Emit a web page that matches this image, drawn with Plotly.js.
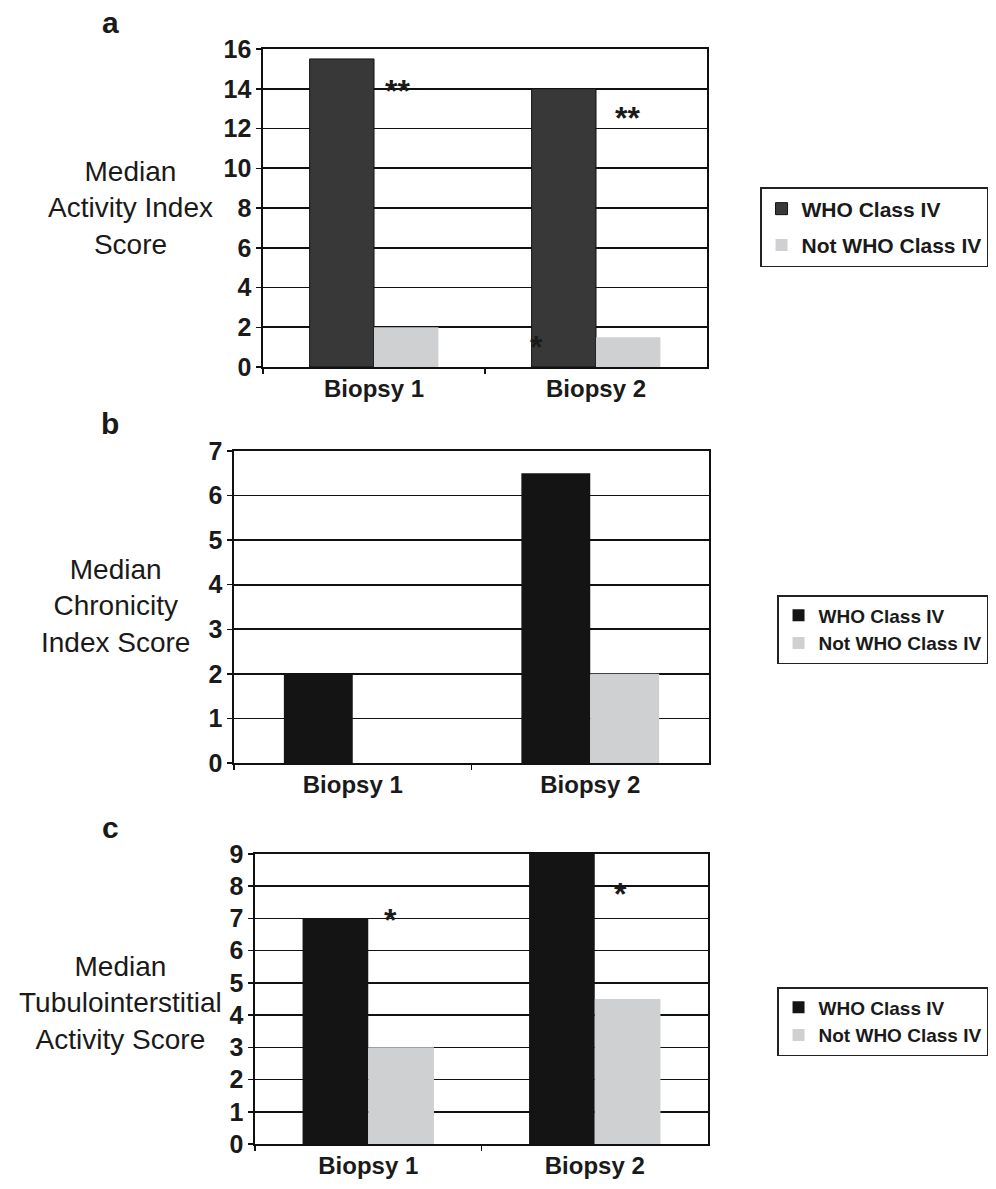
<!DOCTYPE html>
<html>
<head>
<meta charset="utf-8">
<script src="https://cdn.plot.ly/plotly-3.0.1.min.js"></script>
<style>html,body{margin:0;padding:0;background:#fff;}#chart{width:996px;height:1189px;}</style>
</head>
<body>
<div id="chart"></div>
<script>
// ---- data ----
const categories = ["Biopsy 1", "Biopsy 2"];
const seriesNames = ["WHO Class IV", "Not WHO Class IV"];
const activityWHO = [15.5, 14];
const activityNotWHO = [2, 1.5];
const chronicityWHO = [2, 6.5];
const chronicityNotWHO = [0, 2];
const tubuloWHO = [7, 9];
const tubuloNotWHO = [3, 4.5];
const panelLabels = ["a", "b", "c"];
const yTitles = ["Median<br>Activity Index<br>Score", "Median<br>Chronicity<br>Index Score", "Median<br>Tubulointerstitial<br>Activity Score"];

const FONT = "Liberation Sans, Arial, Helvetica, sans-serif";
const darkA = "#383838", darkBC = "#141414", light = "#cfd0d2";

function bar(y, name, color, xa, ya, leg, outline) {
  return {
    type: "bar", x: categories, y: y, name: name, xaxis: xa, yaxis: ya,
    legend: leg, legendgroup: leg + name,
    marker: {color: color, line: {color: outline ? "#111" : color, width: outline ? 1 : 0}},
    hoverinfo: "skip"
  };
}

const data = [
  bar(activityWHO, seriesNames[0], darkA, "x", "y", "legend", true),
  bar(activityNotWHO, seriesNames[1], light, "x", "y", "legend", false),
  bar(chronicityWHO, seriesNames[0], darkBC, "x2", "y2", "legend2", false),
  bar(chronicityNotWHO, seriesNames[1], light, "x2", "y2", "legend2", false),
  bar(tubuloWHO, seriesNames[0], darkBC, "x3", "y3", "legend3", false),
  bar(tubuloNotWHO, seriesNames[1], light, "x3", "y3", "legend3", false)
];

const W = 996, H = 1189;
const px = v => v / W, py = v => 1 - v / H;

function xax(l, r, anchor) {
  return {
    domain: [px(l), px(r)], anchor: anchor, type: "category",
    showline: true, linecolor: "#111", linewidth: 1.6, mirror: true,
    ticks: "outside", tickson: "boundaries", ticklen: 5, tickcolor: "#111", tickwidth: 1.5,
    showgrid: false, zeroline: false, fixedrange: true,
    tickfont: {family: FONT, size: 24, color: "#1a1a1a", weight: "bold"}
  };
}
function yax(t, b, anchor, max, dtick) {
  return {
    domain: [py(b), py(t)], anchor: anchor, range: [0, max], dtick: dtick,
    showline: true, linecolor: "#111", linewidth: 1.6, mirror: true,
    ticks: "outside", ticklen: 5, tickcolor: "#111", tickwidth: 1.5,
    showgrid: true, gridcolor: "#111", gridwidth: 1.6, zeroline: false, fixedrange: true,
    tickfont: {family: FONT, size: 25, color: "#1a1a1a", weight: "bold"}
  };
}
function leg(yTop, size, gap) {
  return {
    x: 0.992, xanchor: "right", y: py(yTop), yanchor: "top",
    bordercolor: "#222", borderwidth: 1.5, bgcolor: "#fff",
    traceorder: "grouped", tracegroupgap: gap,
    font: {family: FONT, size: size, color: "#1a1a1a", weight: "bold"}
  };
}

const annFont = s => ({family: FONT, size: s, color: "#1a1a1a"});
const annotations = [];
// panel letters
[[110, 23], [110, 423], [110, 827]].forEach((p, i) => annotations.push({
  xref: "paper", yref: "paper", x: px(p[0]), y: py(p[1]), text: panelLabels[i],
  showarrow: false, xanchor: "center", yanchor: "middle",
  font: {family: FONT, size: 30, color: "#1a1a1a", weight: "bold"}
}));
// y titles
[[130, 208], [115, 606], [120, 1003]].forEach((p, i) => annotations.push({
  xref: "paper", yref: "paper", x: px(p[0]), y: py(p[1]), text: yTitles[i],
  showarrow: false, xanchor: "center", yanchor: "middle", align: "center",
  font: annFont(28)
}));
// significance asterisks
[["x", "y", 0.108, 14.34, "**"], ["x", "y", 1.144, 12.98, "**"], ["x", "y", 0.73, 1.46, "*"],
 ["x3", "y3", 0.097, 7.23, "*"], ["x3", "y3", 1.115, 8.04, "*"]].forEach(a => annotations.push({
  xref: a[0], yref: a[1], x: a[2], y: a[3], text: a[4], showarrow: false,
  xanchor: "center", yanchor: "middle", yshift: -9,
  font: {family: FONT, size: 32, color: "#1a1a1a", weight: "bold"}
}));

const layout = {
  width: W, height: H, margin: {l: 0, r: 0, t: 0, b: 0},
  paper_bgcolor: "#fff", plot_bgcolor: "#fff",
  barmode: "group", bargap: 0.42, bargroupgap: 0,
  showlegend: true,
  xaxis: xax(263, 707, "y"), yaxis: yax(49, 367, "x", 16, 2),
  xaxis2: xax(234, 709, "y2"), yaxis2: yax(451, 763, "x2", 7, 1),
  xaxis3: xax(255, 708, "y3"), yaxis3: yax(854, 1144, "x3", 9, 1),
  legend: leg(187, 21, 6), legend2: leg(595, 19, 0), legend3: leg(987, 19, 0),
  annotations: annotations,
  font: {family: FONT}
};

Plotly.newPlot("chart", data, layout, {staticPlot: true, displayModeBar: false});
</script>
</body>
</html>
